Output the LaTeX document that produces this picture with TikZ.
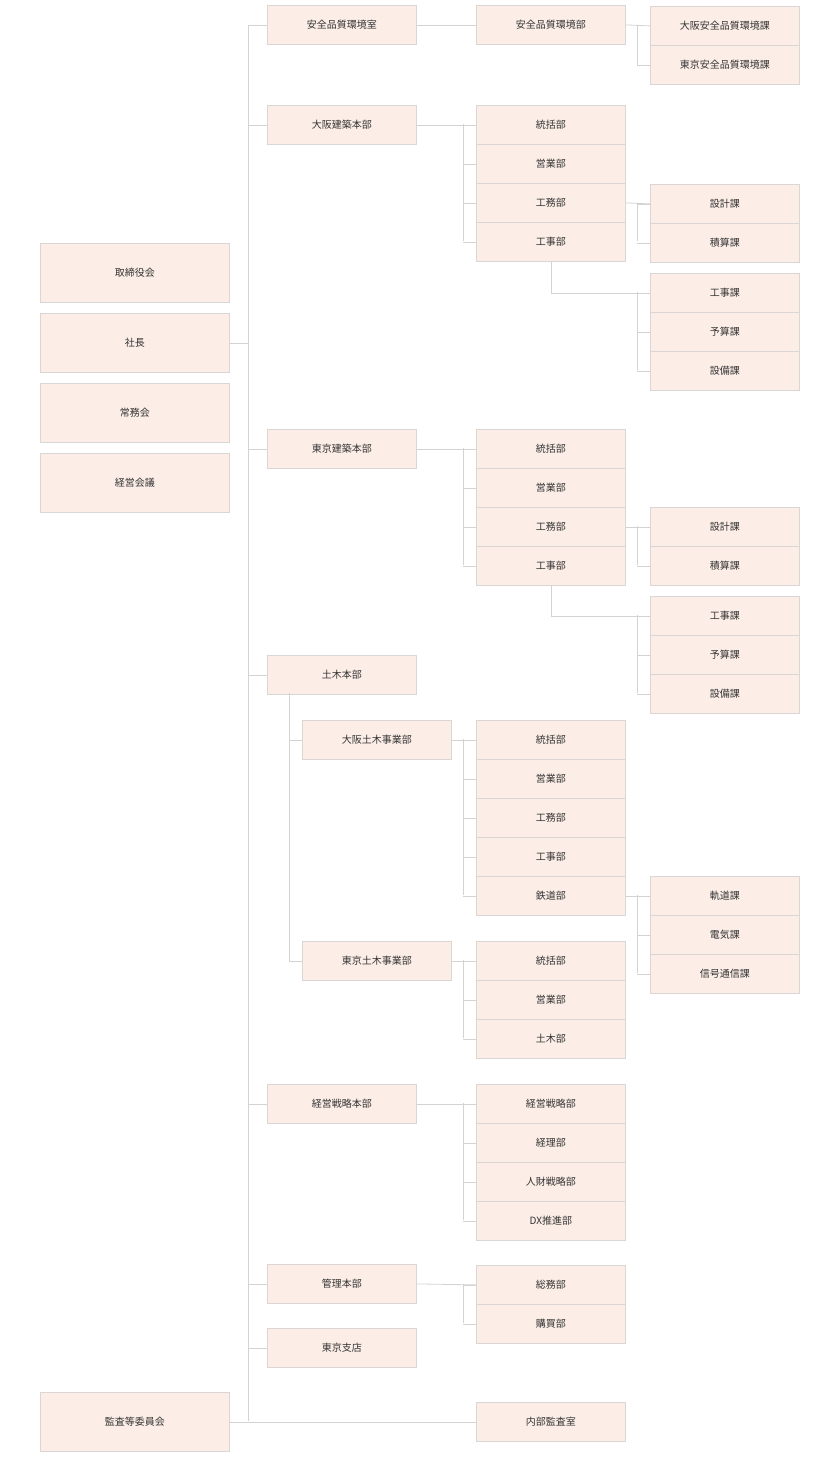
\documentclass[tikz,border=0pt]{standalone}
\usepackage{fontspec}
\setmainfont{Noto Sans CJK JP}
\begin{document}
\begin{tikzpicture}[x=1pt,y=-1pt,
  box/.style={draw=boxline,fill=boxfill,line width=0.8pt,minimum width=149pt,minimum height=39pt,inner sep=0pt,anchor=north west,font=\fontsize{10}{12}\selectfont,text=txt},
  bigbox/.style={box,minimum width=189pt,minimum height=59pt},
  ln/.style={draw=conn,line width=0.8pt}]
\definecolor{boxfill}{HTML}{FCEEE7}
\definecolor{boxline}{HTML}{D9D6D4}
\definecolor{conn}{HTML}{D3D3D3}
\definecolor{txt}{HTML}{333333}
\useasboundingbox (0,0) rectangle (840,1459);
\newcommand\bx[4]{\node[box] (#1) at (#2,#3) {#4};}
% left column
\node[bigbox] (a1) at (40,243) {取締役会};
\node[bigbox] (a2) at (40,313) {社長};
\node[bigbox] (a3) at (40,383) {常務会};
\node[bigbox] (a4) at (40,453) {経営会議};
\node[bigbox] (a5) at (40,1392) {監査等委員会};
% column B
\bx{b1}{267}{5}{安全品質環境室}
\bx{b2}{267}{105}{大阪建築本部}
\bx{b3}{267}{429}{東京建築本部}
\bx{b4}{267}{655}{土木本部}
\bx{b5}{267}{1084}{経営戦略本部}
\bx{b6}{267}{1264}{管理本部}
\bx{b7}{267}{1328}{東京支店}
\bx{b41}{302}{720}{大阪土木事業部}
\bx{b42}{302}{941}{東京土木事業部}
% trunk
\coordinate (tt) at (248,25);
\coordinate (tb) at (248,1421);
\draw[ln] (tt) -- (tb);
\draw[ln] (a2.east) -- (a2.east -| tt);
\foreach \n in {b1,b2,b3,b4,b5,b6,b7} \draw[ln] (\n.west) -- (\n.west -| tt);
\bx{kansa}{476}{1402}{内部監査室}
\draw[ln] (a5.east) -- (kansa.west);
% 土木 sub trunk
\coordinate (dt) at (289,693);
\draw[ln] (dt) |- (b42.west);
\draw[ln] (b41.west) -- (b41.west -| dt);
% 安全
\bx{c01}{476}{5}{安全品質環境部}
\draw[ln] (b1.east) -- (c01.west);
\bx{d01}{650}{6}{大阪安全品質環境課}
\bx{d02}{650}{45}{東京安全品質環境課}
\draw[ln] (c01.east) -- (d01.west);
\draw[ln] (637,25) |- (d02.west);
% generic: column C stack
\newcommand\stackC[4]{% prefix, parent, top y, list
  \foreach \t [count=\i from 0] in {#4} {
    \node[box] (#1\i) at (476,{#3+39*\i}) {\t};
    \draw[ln] (#1\i.west) -- ++(-13,0);
  }
  \draw[ln] (#2.east) -- (#10.west);
}
% Osaka kenchiku
\stackC{oc}{b2}{105}{統括部,営業部,工務部,工事部}
\draw[ln] (463,124) -- (463,241);
\foreach \t [count=\i from 0] in {設計課,積算課} {\node[box] (od\i) at (650,{184+39*\i}) {\t}; \draw[ln] (od\i.west) -- ++(-13,0);}
\draw[ln] (oc2.east) -- (od0.west);
\draw[ln] (637,203) -- (637,241);
\foreach \t [count=\i from 0] in {工事課,予算課,設備課} {\node[box] (oe\i) at (650,{273+39*\i}) {\t}; \draw[ln] (oe\i.west) -- ++(-13,0);}
\draw[ln] (oc3.south) |- (oe0.west);
\draw[ln] (637,292) -- (637,370);
% Tokyo kenchiku
\stackC{tc}{b3}{429}{統括部,営業部,工務部,工事部}
\draw[ln] (463,448) -- (463,565);
\foreach \t [count=\i from 0] in {設計課,積算課} {\node[box] (td\i) at (650,{507+39*\i}) {\t}; \draw[ln] (td\i.west) -- ++(-13,0);}
\draw[ln] (tc2.east) -- (td0.west);
\draw[ln] (637,526) -- (637,565);
\foreach \t [count=\i from 0] in {工事課,予算課,設備課} {\node[box] (te\i) at (650,{596+39*\i}) {\t}; \draw[ln] (te\i.west) -- ++(-13,0);}
\draw[ln] (tc3.south) |- (te0.west);
\draw[ln] (637,615) -- (637,693);
% Osaka doboku
\stackC{pc}{b41}{720}{統括部,営業部,工務部,工事部,鉄道部}
\draw[ln] (463,739) -- (463,895);
\foreach \t [count=\i from 0] in {軌道課,電気課,信号通信課} {\node[box] (pd\i) at (650,{876+39*\i}) {\t}; \draw[ln] (pd\i.west) -- ++(-13,0);}
\draw[ln] (pc4.east) -- (pd0.west);
\draw[ln] (637,895) -- (637,973);
% Tokyo doboku
\stackC{qc}{b42}{941}{統括部,営業部,土木部}
\draw[ln] (463,960) -- (463,1038);
% Keiei senryaku
\stackC{rc}{b5}{1084}{経営戦略部,経理部,人財戦略部,DX推進部}
\draw[ln] (463,1103) -- (463,1220);
% Kanri
\stackC{sc}{b6}{1265}{総務部,購買部}
\draw[ln] (463,1284) -- (463,1323);
\end{tikzpicture}
\end{document}
